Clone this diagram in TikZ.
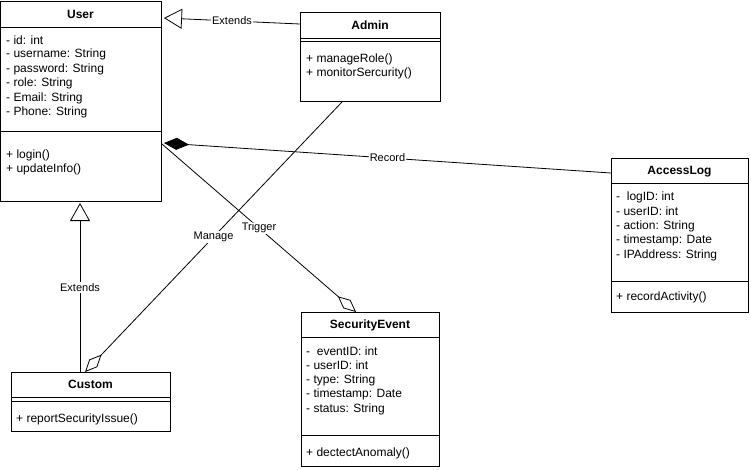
\documentclass[tikz,border=0pt]{standalone}
\usepackage{fontspec}
\setmainfont{Liberation Sans}
\usetikzlibrary{arrows.meta,calc}
\begin{document}
\begin{tikzpicture}[x=1pt,y=-1pt,
  every node/.style={font=\fontsize{12}{14}\selectfont},
  cls/.style={draw, line width=1pt, anchor=north west, inner sep=0, fill=white},
  title/.style={font=\fontsize{12}{14}\selectfont\bfseries, inner sep=0},
  txt/.style={anchor=west, inner sep=0},
  lbl/.style={font=\fontsize{11}{13}\selectfont, fill=white, inner sep=1pt},
  divider/.style={line width=1pt},
  conn/.style={line width=0.8pt},
  inherit/.style={conn, -{Triangle[open, length=18pt, width=20pt, fill=white]}},
  compos/.style={conn, -{Diamond[length=25pt, width=12pt]}},
  aggr/.style={conn, -{Diamond[open, length=24pt, width=11pt, fill=white]}},
]
\fill[white] (0,0) rectangle (751,469);
\useasboundingbox (0,0) rectangle (751,469);

% ---- User ----
\node[cls, minimum width=161pt, minimum height=200pt] (user) at (0,1) {};
\draw[divider] ($(user.north west)+(0,26)$) -- ($(user.north east)+(0,26)$);
\draw[divider] ($(user.north west)+(0,130)$) -- ($(user.north east)+(0,130)$);
\node[title] (userT) at (80.5,14) {User};
\node[txt] (u1) at (6,40) {- id: int};
\node[txt] (u2) at (6,54.5) {- username: String};
\node[txt] (u3) at (6,69) {- password: String};
\node[txt] (u4) at (6,83.5) {- role: String};
\node[txt] (u5) at (6,98) {- Email: String};
\node[txt] (u6) at (6,112.5) {- Phone: String};
\node[txt] (u7) at (6,155) {+ login()};
\node[txt] (u8) at (6,169.5) {+ updateInfo()};

% ---- Admin ----
\node[cls, minimum width=140pt, minimum height=89pt] (admin) at (300,12) {};
\draw[divider] ($(admin.north west)+(0,26)$) -- ($(admin.north east)+(0,26)$);
\draw[divider] ($(admin.north west)+(0,29)$) -- ($(admin.north east)+(0,29)$);
\node[title] (adminT) at (370,25) {Admin};
\node[txt] (a1) at (306,59) {+ manageRole()};
\node[txt] (a2) at (306,73) {+ monitorSercurity()};

% ---- Custom ----
\node[cls, minimum width=159pt, minimum height=59pt] (custom) at (11,372) {};
\draw[divider] ($(custom.north west)+(0,25)$) -- ($(custom.north east)+(0,25)$);
\draw[divider] ($(custom.north west)+(0,29)$) -- ($(custom.north east)+(0,29)$);
\node[title] (customT) at (90.5,384.5) {Custom};
\node[txt] (c1) at (16,419.5) {+ reportSecurityIssue()};

% ---- SecurityEvent ----
\node[cls, minimum width=138pt, minimum height=154pt] (sevt) at (301,312) {};
\draw[divider] ($(sevt.north west)+(0,25)$) -- ($(sevt.north east)+(0,25)$);
\draw[divider] ($(sevt.north west)+(0,123)$) -- ($(sevt.north east)+(0,123)$);
\node[title] (sevtT) at (370,325.5) {SecurityEvent};
\node[txt] (s1) at (306,351) {-\ \ eventID: int};
\node[txt] (s2) at (306,365.5) {- userID: int};
\node[txt] (s3) at (306,380) {- type: String};
\node[txt] (s4) at (306,394.5) {- timestamp: Date};
\node[txt] (s5) at (306,409) {- status: String};
\node[txt] (s6) at (306,453) {+ dectectAnomaly()};

% ---- AccessLog ----
\node[cls, minimum width=137pt, minimum height=154pt] (alog) at (611,158) {};
\draw[divider] ($(alog.north west)+(0,25)$) -- ($(alog.north east)+(0,25)$);
\draw[divider] ($(alog.north west)+(0,123)$) -- ($(alog.north east)+(0,123)$);
\node[title] (alogT) at (679.5,171.5) {AccessLog};
\node[txt] (l1) at (616,197) {-\ \ logID: int};
\node[txt] (l2) at (616,211.5) {- userID: int};
\node[txt] (l3) at (616,226) {- action: String};
\node[txt] (l4) at (616,240.5) {- timestamp: Date};
\node[txt] (l5) at (616,255) {- IPAddress: String};
\node[txt] (l6) at (616,297.5) {+ recordActivity()};

% ---- connectors ----
\draw[inherit] ($(admin.north west)+(0,12)$) -- node[lbl]{Extends} ($(user.north east)+(2,17)$);
\draw[compos] ($(alog.north west)+(0,15)$) -- node[lbl]{Record} ($(user.north east)+(2,142)$);
\draw[aggr] ($(user.north east)+(0,143)$) -- node[lbl]{Trigger} ($(sevt.north west)+(55,0)$);
\draw[aggr] ($(admin.south west)+(42,0)$) -- node[lbl]{Manage} ($(custom.north west)+(74,0)$);
\draw[inherit] ($(custom.north west)+(69,0)$) -- node[lbl]{Extends} ($(user.south west)+(80,1)$);
\end{tikzpicture}
\end{document}
